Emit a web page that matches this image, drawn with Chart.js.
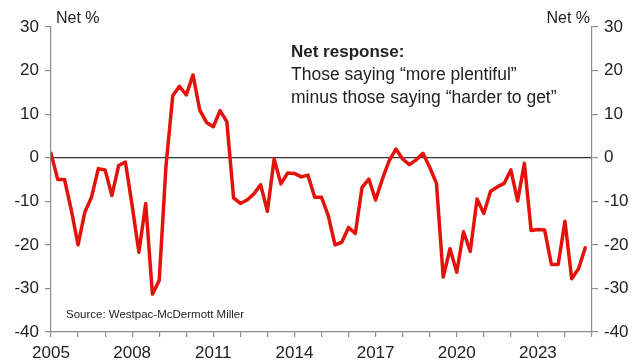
<!DOCTYPE html>
<html lang="en">
<head>
  <meta charset="UTF-8" />
  <title>Net response</title>
  <style>
    html, body {
      margin: 0;
      padding: 0;
      background: #fff;
      font-family: 'Liberation Sans', Arial, sans-serif;
    }
    .chart-box {
      width: 634px;
      height: 363px;
    }
  </style>
  <script src="https://cdn.jsdelivr.net/npm/chart.js"></script>
</head>
<body>
  <div class="chart-box">
    <canvas id="chart" width="634" height="363"></canvas>
  </div>
  <script>
    // quarterly, 2005 Q1 .. 2024 Q4 (x = quarters since 2005)
    const startYear = 2005;
    const netResponse = [
      1, -5, -5, -12, -20, -12.5, -9, -2.5, -2.8, -8.7, -1.8, -1,
      -11, -21.7, -10.5, -31.3, -28.2, -2, 14.2, 16.4, 14.4, 19, 10.9, 8.1,
      7.1, 10.8, 8.3, -9.2, -10.5, -9.7, -8.3, -6.2, -12.3, -0.3, -6, -3.5,
      -3.6, -4.4, -4, -9.1, -9.1, -13.3, -20, -19.4, -16, -17.4, -6.8, -4.9,
      -9.7, -4.9, -0.7, 2, -0.3, -1.6, -0.5, 1, -2.2, -5.9, -27.4, -20.9,
      -26.3, -17, -21.5, -9.5, -12.8, -7.7, -6.7, -5.9, -2.8, -9.9, -1.3, -16.7,
      -16.5, -16.6, -24.5, -24.5, -14.6, -27.8, -25.5, -20.7
    ];
    const yTicks = [-40, -30, -20, -10, 0, 10, 20, 30];
    const yearLabels = [2005, 2008, 2011, 2014, 2017, 2020, 2023];

    const points = netResponse.map((v, i) => ({ x: i, y: v }));
    const axisGrey = '#8c8c8c';
    const textCol = '#222';
    const tickFont = { family: "'Liberation Sans', Arial, sans-serif", size: 17 };

    const textPlugin = {
      id: 'texts',
      afterDraw(chart) {
        const ctx = chart.ctx;
        ctx.save();
        ctx.fillStyle = textCol;
        ctx.textBaseline = 'alphabetic';
        ctx.font = "16px 'Liberation Sans', Arial, sans-serif";
        ctx.textAlign = 'left';
        ctx.fillText('Net %', 56, 23);
        ctx.textAlign = 'right';
        ctx.fillText('Net %', 590, 23);
        ctx.textAlign = 'left';
        ctx.font = "bold 17px 'Liberation Sans', Arial, sans-serif";
        ctx.fillText('Net response:', 291, 57);
        ctx.font = "17.5px 'Liberation Sans', Arial, sans-serif";
        ctx.fillText('Those saying \u201cmore plentiful\u201d', 291, 80);
        ctx.fillText('minus those saying \u201charder to get\u201d', 291, 103);
        ctx.font = "11.5px 'Liberation Sans', Arial, sans-serif";
        ctx.fillText('Source: Westpac-McDermott Miller', 66, 318);
        ctx.restore();
      }
    };

    function yAxis(position, showZero) {
      return {
        type: 'linear',
        position: position,
        min: -40,
        max: 30,
        afterBuildTicks(axis) {
          axis.ticks = yTicks.map(v => ({ value: v }));
        },
        afterFit(axis) {
          axis.width = position === 'left' ? 51 : 42;
        },
        border: { display: true, color: axisGrey, width: 1.2 },
        grid: {
          drawOnChartArea: showZero,
          drawTicks: true,
          tickLength: 6,
          tickColor: axisGrey,
          lineWidth: 1.2,
          color: ctx => (ctx.tick && ctx.tick.value === 0) ? '#333' : 'rgba(0,0,0,0)'
        },
        ticks: {
          color: textCol,
          font: tickFont,
          padding: 6
        }
      };
    }

    new Chart(document.getElementById('chart').getContext('2d'), {
      type: 'line',
      data: {
        datasets: [{
          label: 'Net response',
          data: points,
          borderColor: '#e3120b',
          borderWidth: 3.5,
          pointRadius: 0,
          tension: 0,
          borderJoinStyle: 'round',
          borderCapStyle: 'round',
          yAxisID: 'y'
        }]
      },
      plugins: [textPlugin],
      options: {
        responsive: false,
        animation: false,
        layout: { padding: { top: 27, right: 0, left: 0, bottom: 0 } },
        plugins: {
          legend: { display: false },
          tooltip: { enabled: false }
        },
        scales: {
          x: {
            type: 'linear',
            min: 0,
            max: 80,
            afterBuildTicks(axis) {
              const t = [];
              for (let q = 0; q <= 80; q += 4) t.push({ value: q });
              axis.ticks = t;
            },
            afterFit(axis) {
              axis.height = 31;
            },
            border: { display: true, color: axisGrey, width: 1.2 },
            grid: {
              drawOnChartArea: false,
              drawTicks: true,
              tickLength: 5,
              tickColor: axisGrey,
              lineWidth: 1.2
            },
            ticks: {
              autoSkip: false,
              maxRotation: 0,
              color: textCol,
              font: tickFont,
              padding: 6,
              callback: v => {
                const yr = startYear + v / 4;
                return yearLabels.includes(yr) ? String(yr) : '';
              }
            }
          },
          y: yAxis('left', true),
          y2: yAxis('right', false)
        }
      }
    });
  </script>
</body>
</html>
